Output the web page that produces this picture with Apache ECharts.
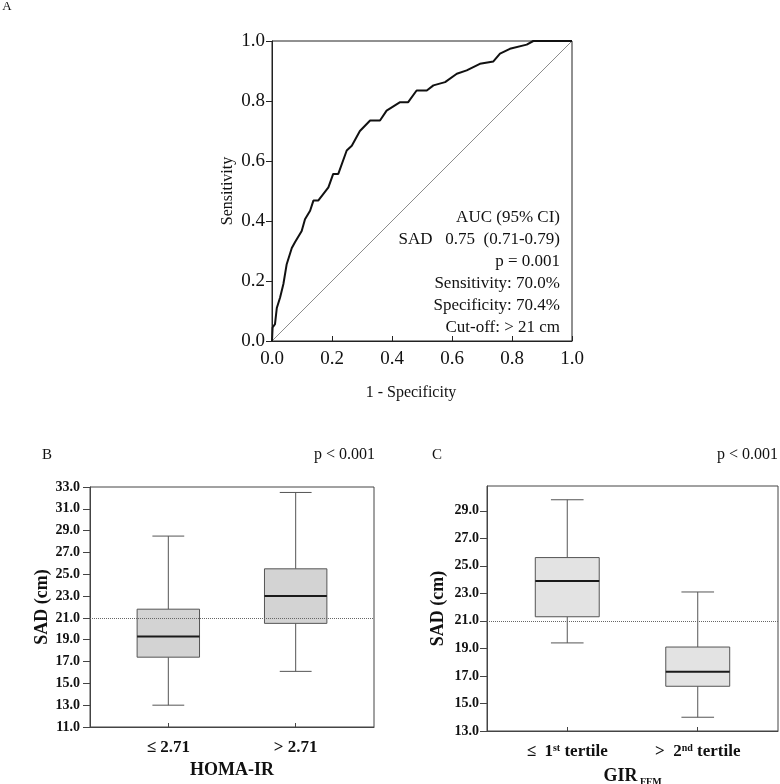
<!DOCTYPE html>
<html>
<head>
<meta charset="utf-8">
<script src="https://cdn.jsdelivr.net/npm/echarts@6/dist/echarts.min.js"></script>
<style>
html,body{margin:0;padding:0;background:#fff;}
#chart{width:780px;height:784px;}
</style>
</head>
<body>
<div id="chart"></div>
<script>
// ---------- Panel A: ROC curve ----------
const rocFpr = [0, 0.002, 0.01, 0.016, 0.027, 0.038, 0.049, 0.066, 0.077, 0.082, 0.099, 0.11, 0.127, 0.138, 0.154, 0.188, 0.204, 0.221, 0.249, 0.266, 0.293, 0.327, 0.36, 0.382, 0.427, 0.454, 0.482, 0.516, 0.538, 0.577, 0.616, 0.649, 0.693, 0.738, 0.76, 0.793, 0.849, 0.871, 1.0];
const rocTpr = [0, 0.045, 0.056, 0.11, 0.145, 0.19, 0.256, 0.31, 0.33, 0.334, 0.367, 0.406, 0.434, 0.468, 0.468, 0.512, 0.557, 0.557, 0.635, 0.651, 0.70, 0.735, 0.735, 0.768, 0.796, 0.796, 0.835, 0.835, 0.852, 0.863, 0.891, 0.902, 0.924, 0.932, 0.958, 0.974, 0.988, 1.0, 1.0];
const chanceX = [0, 1];
const chanceY = [0, 1];
const rocNotes = ['AUC (95% CI)', 'SAD   0.75  (0.71-0.79)', 'p = 0.001', 'Sensitivity: 70.0%', 'Specificity: 70.4%', 'Cut-off: > 21 cm'];

// ---------- Panel B: SAD by HOMA-IR ----------
const catB = ['≤ 2.71', '> 2.71'];
// [min, Q1, median, Q3, max]
const boxB = [
  [13.0, 17.4, 19.3, 21.8, 28.5],
  [16.1, 20.5, 23.0, 25.5, 32.5]
];
const ticksB = [11, 13, 15, 17, 19, 21, 23, 25, 27, 29, 31, 33];

// ---------- Panel C: SAD by GIR_FFM ----------
const catC = ['≤  1st tertile', '>  2nd tertile'];
const boxC = [
  [19.4, 21.3, 23.9, 25.6, 29.8],
  [14.0, 16.25, 17.3, 19.1, 23.1]
];
const ticksC = [13, 15, 17, 19, 21, 23, 25, 27, 29];

const cutoff = 21.0;
const pText = 'p < 0.001';

// ---------- styling constants ----------
const SERIF = '"Liberation Serif", "Times New Roman", serif';
const BOX_W = 0.49;  // box width in category units
const CAP_W = 0.25;  // whisker cap width in category units

function boxRenderer(fill) {
  return function (params, api) {
    const x = api.value(0);
    const lo = api.value(1), q1 = api.value(2), med = api.value(3), q3 = api.value(4), hi = api.value(5);
    const c = api.coord([x, med]);
    const unit = api.size([1, 0])[0];
    const bw = unit * BOX_W, cw = unit * CAP_W;
    const cx = c[0];
    const yLo = api.coord([x, lo])[1], yQ1 = api.coord([x, q1])[1];
    const yQ3 = api.coord([x, q3])[1], yHi = api.coord([x, hi])[1];
    const yMed = c[1];
    const st = { stroke: '#555', lineWidth: 1, fill: null };
    return {
      type: 'group',
      children: [
        { type: 'line', shape: { x1: cx, y1: yQ3, x2: cx, y2: yHi }, style: st },
        { type: 'line', shape: { x1: cx, y1: yQ1, x2: cx, y2: yLo }, style: st },
        { type: 'line', shape: { x1: cx - cw / 2, y1: yHi, x2: cx + cw / 2, y2: yHi }, style: st },
        { type: 'line', shape: { x1: cx - cw / 2, y1: yLo, x2: cx + cw / 2, y2: yLo }, style: st },
        { type: 'rect', shape: { x: cx - bw / 2, y: yQ3, width: bw, height: yQ1 - yQ3 }, style: { fill: fill, stroke: '#555', lineWidth: 1 } },
        { type: 'line', shape: { x1: cx - bw / 2, y1: yMed, x2: cx + bw / 2, y2: yMed }, style: { stroke: '#1a1a1a', lineWidth: 2 } }
      ]
    };
  };
}

function boxRows(boxes) {
  return boxes.map((b, i) => [i + 1].concat(b));
}

function richCat(s) {
  const m = s.match(/^(.*\d)(st|nd|rd|th)(.*)$/);
  if (!m) return '{b|' + s + '}';
  return '{b|' + m[1] + '}{sup|' + m[2] + '}{b|' + m[3] + '}';
}

const boldLabel = { fontFamily: SERIF, fontWeight: 'bold', color: '#111' };

function catXAxis(gridIndex, cats, name, nameRich) {
  return {
    type: 'value', gridIndex: gridIndex, min: 0.385, max: 2.615,
    name: name, nameLocation: 'middle', nameGap: 34,
    nameTextStyle: Object.assign({ fontSize: 18, rich: nameRich || {} }, boldLabel),
    axisLine: { show: true, onZero: false, lineStyle: { color: '#444', width: 1 } },
    axisTick: { show: true, inside: true, length: 4, customValues: [1, 2], lineStyle: { color: '#444' } },
    axisLabel: {
      customValues: [1, 2], margin: 12, fontSize: 17, fontFamily: SERIF, fontWeight: 'bold', color: '#111',
      formatter: v => richCat(cats[Math.round(v) - 1]),
      rich: {
        b: { fontSize: 17, fontFamily: SERIF, fontWeight: 'bold', color: '#111', lineHeight: 18 },
        sup: { fontSize: 10, fontFamily: SERIF, fontWeight: 'bold', color: '#111', lineHeight: 18, verticalAlign: 'top' }
      }
    },
    splitLine: { show: false }
  };
}

function sadYAxis(gridIndex, min, max, ticks, nameGap, margin) {
  return {
    type: 'value', gridIndex: gridIndex, min: min, max: max,
    name: 'SAD (cm)', nameLocation: 'middle', nameGap: nameGap, nameRotate: 90,
    nameTextStyle: Object.assign({ fontSize: 18 }, boldLabel),
    axisLine: { show: true, lineStyle: { color: '#444', width: 1 } },
    axisTick: { show: true, inside: false, length: 7, customValues: ticks, lineStyle: { color: '#444' } },
    axisLabel: { customValues: ticks, margin: margin, fontSize: 14, fontFamily: SERIF, fontWeight: 'bold', color: '#111', formatter: v => v.toFixed(1) },
    splitLine: { show: false }
  };
}

const chart = echarts.init(document.getElementById('chart'), null, { renderer: 'canvas' });

const notesGraphic = rocNotes.map((t, i) => ({
  type: 'text', x: 560, y: 218 + i * 22,
  style: { text: t, font: '17px ' + SERIF, fill: '#111', textAlign: 'right', textVerticalAlign: 'middle' }
}));

const option = {
  animation: false,
  backgroundColor: '#fff',
  grid: [
    { left: 272, top: 41, width: 300, height: 300, show: true, borderColor: '#222', borderWidth: 1, outerBoundsMode: 'none' },
    { left: 90, top: 487, width: 284, height: 240, show: true, borderColor: '#444', borderWidth: 1, outerBoundsMode: 'none' },
    { left: 487, top: 486, width: 291, height: 245, show: true, borderColor: '#444', borderWidth: 1, outerBoundsMode: 'none' }
  ],
  xAxis: [
    {
      type: 'value', gridIndex: 0, min: 0, max: 1, interval: 0.2,
      name: '1 - Specificity', nameLocation: 'middle', nameGap: 44,
      nameTextStyle: { fontSize: 16, fontFamily: SERIF, color: '#111', padding: [0, 22, 0, 0] },
      axisLine: { show: true, onZero: false, lineStyle: { color: '#222', width: 1 } },
      axisTick: { show: true, inside: true, length: 5, lineStyle: { color: '#222' } },
      axisLabel: { margin: 9, fontSize: 19, fontFamily: SERIF, color: '#111', formatter: v => v.toFixed(1) },
      splitLine: { show: false }
    },
    catXAxis(1, catB, 'HOMA-IR'),
    catXAxis(2, catC, '{g|GIR}{s| FFM}', {
      g: { fontSize: 18, fontFamily: SERIF, fontWeight: 'bold', color: '#111', lineHeight: 22 },
      s: { fontSize: 10, fontFamily: SERIF, fontWeight: 'bold', color: '#111', lineHeight: 22, verticalAlign: 'bottom' }
    })
  ],
  yAxis: [
    {
      type: 'value', gridIndex: 0, min: 0, max: 1, interval: 0.2,
      name: 'Sensitivity', nameLocation: 'middle', nameGap: 36, nameRotate: 90,
      nameTextStyle: { fontSize: 16, fontFamily: SERIF, color: '#111' },
      axisLine: { show: true, onZero: false, lineStyle: { color: '#222', width: 1 } },
      axisTick: { show: true, inside: false, length: 6, lineStyle: { color: '#222' } },
      axisLabel: { margin: 7, fontSize: 19, fontFamily: SERIF, color: '#111', formatter: v => v.toFixed(1) },
      splitLine: { show: false }
    },
    sadYAxis(1, ticksB[0], ticksB[ticksB.length - 1], ticksB, 38, 10),
    sadYAxis(2, ticksC[0], 30.8, ticksC, 40, 8)
  ],
  series: [
    {
      type: 'line', xAxisIndex: 0, yAxisIndex: 0,
      data: chanceX.map((x, i) => [x, chanceY[i]]),
      showSymbol: false, symbol: 'none', silent: true,
      lineStyle: { color: '#8c8c8c', width: 1 }
    },
    {
      type: 'line', xAxisIndex: 0, yAxisIndex: 0,
      data: rocFpr.map((x, i) => [x, rocTpr[i]]),
      showSymbol: false, symbol: 'none', silent: true,
      lineStyle: { color: '#111', width: 2 }
    },
    {
      type: 'custom', xAxisIndex: 1, yAxisIndex: 1,
      renderItem: boxRenderer('#d3d3d3'),
      encode: { x: 0, y: [1, 2, 3, 4, 5] },
      data: boxRows(boxB),
      markLine: {
        silent: true, symbol: ['none', 'none'], label: { show: false },
        lineStyle: { color: '#666', width: 1, type: 'dotted' },
        data: [{ yAxis: cutoff }]
      },
      z: 2
    },
    {
      type: 'custom', xAxisIndex: 2, yAxisIndex: 2,
      renderItem: boxRenderer('#e3e3e3'),
      encode: { x: 0, y: [1, 2, 3, 4, 5] },
      data: boxRows(boxC),
      markLine: {
        silent: true, symbol: ['none', 'none'], label: { show: false },
        lineStyle: { color: '#666', width: 1, type: 'dotted' },
        data: [{ yAxis: cutoff }]
      },
      z: 2
    }
  ],
  graphic: [
    { type: 'text', x: 7, y: 7, style: { text: 'A', font: '13px ' + SERIF, fill: '#111', textAlign: 'center', textVerticalAlign: 'middle' } },
    { type: 'text', x: 47, y: 455, style: { text: 'B', font: '15px ' + SERIF, fill: '#111', textAlign: 'center', textVerticalAlign: 'middle' } },
    { type: 'text', x: 375, y: 455, style: { text: pText, font: '16px ' + SERIF, fill: '#111', textAlign: 'right', textVerticalAlign: 'middle' } },
    { type: 'text', x: 437, y: 455, style: { text: 'C', font: '15px ' + SERIF, fill: '#111', textAlign: 'center', textVerticalAlign: 'middle' } },
    { type: 'text', x: 778, y: 455, style: { text: pText, font: '16px ' + SERIF, fill: '#111', textAlign: 'right', textVerticalAlign: 'middle' } }
  ].concat(notesGraphic)
};

chart.setOption(option);
</script>
</body>
</html>
